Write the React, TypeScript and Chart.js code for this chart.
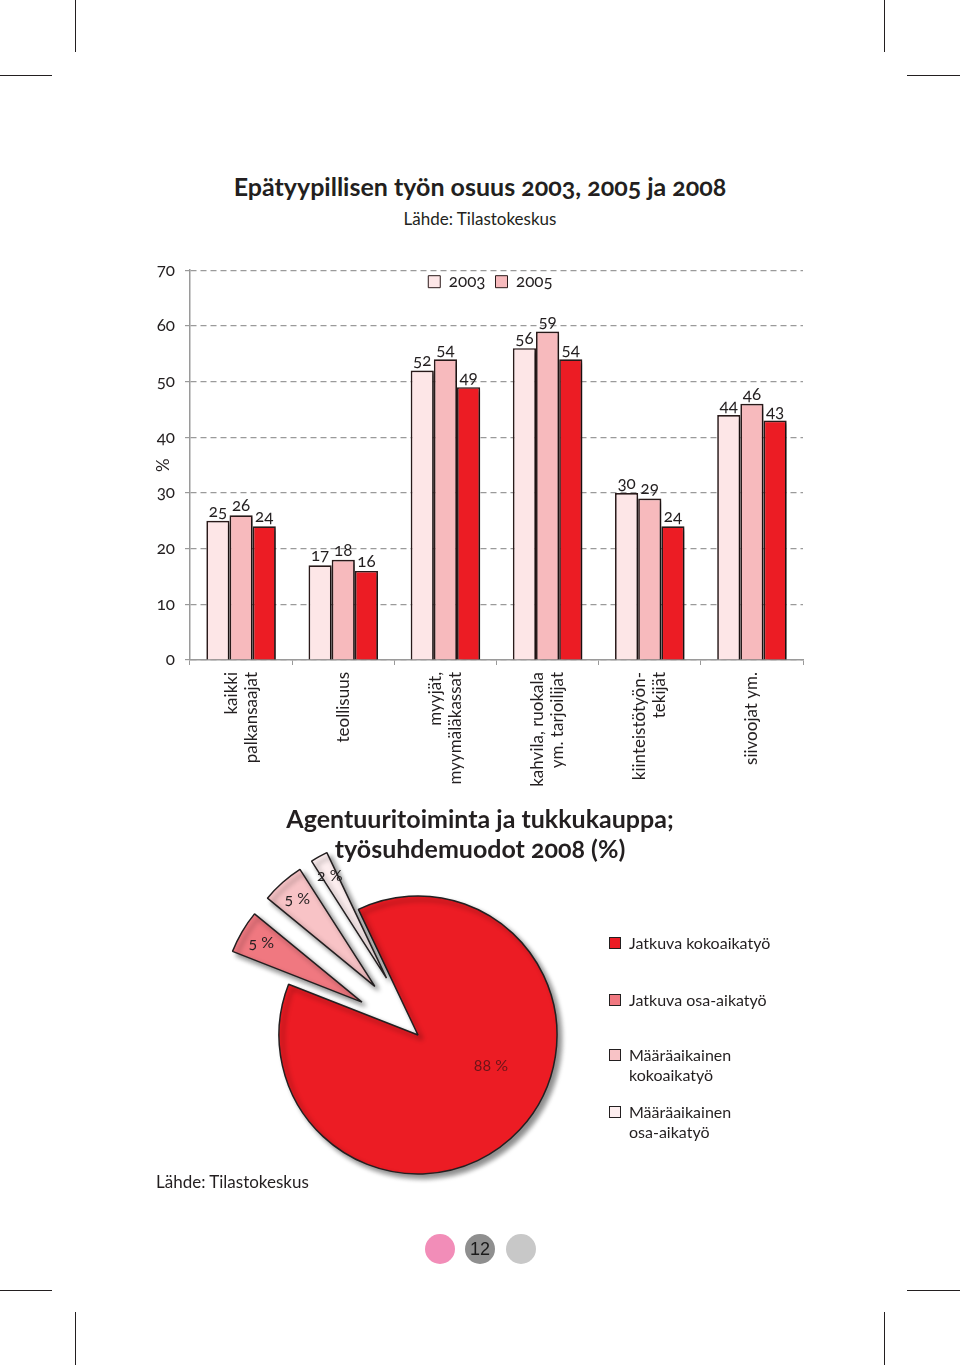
import React, { useEffect, useRef } from 'react';
import { Chart, registerables } from 'chart.js';

Chart.register(...registerables);

const FONT = 'Lato, "Open Sans", sans-serif';
const INK = '#231f20';

// ---------- Bar chart data ----------
const years = ['2003', '2005', '2008'];
const legendYears = ['2003', '2005'];
const categories = [
  ['kaikki', 'palkansaajat'],
  ['teollisuus'],
  ['myyjät,', 'myymäläkassat'],
  ['kahvila, ruokala', 'ym. tarjoilijat'],
  ['kiinteistötyön-', 'tekijät'],
  ['siivoojat ym.'],
];
const values2003 = [25, 17, 52, 56, 30, 44];
const values2005 = [26, 18, 54, 59, 29, 46];
const values2008 = [24, 16, 49, 54, 24, 43];
const yMin = 0;
const yMax = 70;
const yStep = 10;

// ---------- Pie chart data ----------
const pieCategories = [
  ['Jatkuva kokoaikatyö'],
  ['Jatkuva osa-aikatyö'],
  ['Määräaikainen', 'kokoaikatyö'],
  ['Määräaikainen', 'osa-aikatyö'],
];
const pieValues = [88, 5, 5, 2];

// ---------- styles ----------
const barColors = ['#fde6e7', '#f7babd', '#ec1c24'];
const pieColors = ['#ec1c24', '#f07880', '#f8c3c6', '#fdeeef'];
const pieExplode = [0, 65, 65, 65];

const barPlugin = {
  id: 'barDecor',
  afterInit(chart: any) {
    if (chart.legend) chart.legend.isHorizontal = () => true;
  },
  afterLayout(chart: any) {
    const lg = chart.legend;
    if (!lg) return;
    lg.left = chart.chartArea.left - 6;
    lg.right = chart.chartArea.right - 6;
    lg.top -= 7;
    lg.bottom -= 7;
  },
  beforeDatasetsDraw(chart: any) {
    const ctx = chart.ctx;
    ctx.save();
    ctx.shadowColor = 'rgba(0,0,0,0.45)';
    ctx.shadowBlur = 4;
    ctx.shadowOffsetX = 3;
    ctx.shadowOffsetY = 2;
  },
  afterDatasetsDraw(chart: any) {
    const ctx = chart.ctx;
    ctx.restore();
    ctx.save();
    ctx.font = `17px ${FONT}`;
    ctx.fillStyle = INK;
    ctx.textAlign = 'center';
    ctx.textBaseline = 'bottom';
    chart.data.datasets.forEach((ds: any, di: number) => {
      const meta = chart.getDatasetMeta(di);
      meta.data.forEach((bar: any, i: number) => {
        ctx.fillText(String(ds.data[i]), bar.x, bar.y - 1);
      });
    });
    const xs = chart.scales.x;
    const top = chart.chartArea.bottom + 12;
    ctx.textAlign = 'right';
    ctx.textBaseline = 'middle';
    categories.forEach((lines, i) => {
      const x = xs.getPixelForValue(i);
      ctx.save();
      ctx.translate(x, top);
      ctx.rotate(-Math.PI / 2);
      lines.forEach((ln, j) => {
        ctx.fillText(ln, 0, (j - (lines.length - 1) / 2) * 20);
      });
      ctx.restore();
    });
    ctx.restore();
  },
};

const piePlugin = {
  id: 'pieDecor',
  afterDatasetUpdate(chart: any, args: any) {
    const meta = args.meta;
    meta.data.forEach((arc: any, i: number) => {
      const d = pieExplode[i];
      if (!d) return;
      const mid = (arc.startAngle + arc.endAngle) / 2;
      arc.x += Math.cos(mid) * d;
      arc.y += Math.sin(mid) * d;
    });
  },
  beforeDatasetsDraw(chart: any) {
    const ctx = chart.ctx;
    ctx.save();
    ctx.shadowColor = 'rgba(0,0,0,0.45)';
    ctx.shadowBlur = 5;
    ctx.shadowOffsetX = 4;
    ctx.shadowOffsetY = 4;
  },
  afterDatasetsDraw(chart: any) {
    const ctx = chart.ctx;
    ctx.restore();
    ctx.save();
    ctx.font = `16px ${FONT}`;
    ctx.textAlign = 'center';
    ctx.textBaseline = 'middle';
    const meta = chart.getDatasetMeta(0);
    meta.data.forEach((arc: any, i: number) => {
      const big = arc.endAngle - arc.startAngle > Math.PI;
      const ang = (arc.startAngle + arc.endAngle) / 2 - (big ? 0.35 : 0);
      const r = arc.outerRadius * (big ? 0.57 : 0.84);
      ctx.fillStyle = big ? '#6e1418' : INK;
      ctx.fillText(`${pieValues[i]} %`, arc.x + Math.cos(ang) * r, arc.y + Math.sin(ang) * r);
    });
    ctx.restore();
  },
};

const abs = (s: any): any => ({ position: 'absolute', ...s });

export default function App() {
  const barRef = useRef<HTMLCanvasElement>(null);
  const pieRef = useRef<HTMLCanvasElement>(null);

  useEffect(() => {
    const bar = new Chart(barRef.current as HTMLCanvasElement, {
      type: 'bar',
      data: {
        labels: categories.map((c) => c.join(' ')),
        datasets: [values2003, values2005, values2008].map((vals, i) => ({
          label: years[i],
          data: vals,
          backgroundColor: barColors[i],
          borderColor: '#2b1b1b',
          borderWidth: 1.7,
          barPercentage: 1,
          categoryPercentage: 0.68,
        })),
      },
      options: {
        animation: false,
        responsive: false,
        layout: { padding: { left: 140, right: 157, top: 20, bottom: 10 } },
        plugins: {
          tooltip: { enabled: false },
          legend: {
            position: 'chartArea',
            align: 'center',
            labels: {
              filter: (item: any) => legendYears.includes(item.text),
              boxWidth: 12,
              boxHeight: 12,
              padding: 10,
              color: INK,
              font: { size: 17, family: FONT },
              generateLabels: (chart: any) =>
                (Chart.defaults.plugins.legend.labels as any)
                  .generateLabels(chart)
                  .map((l: any) => ({ ...l, lineWidth: 1 })),
            },
          },
        },
        scales: {
          x: {
            afterFit: (s: any) => {
              s.height = 140;
            },
            ticks: { display: false },
            grid: {
              display: true,
              drawOnChartArea: false,
              drawTicks: true,
              tickLength: 5,
              color: '#9a9a9a',
              offset: true,
            },
            border: { display: true, color: '#9a9a9a', width: 1.5 },
          },
          y: {
            min: yMin,
            max: yMax,
            afterFit: (s: any) => {
              s.width = 50;
            },
            ticks: {
              stepSize: yStep,
              color: INK,
              padding: 10,
              font: { size: 17, family: FONT },
            },
            title: {
              display: true,
              text: '%',
              color: INK,
              font: { size: 17, family: FONT },
              padding: { top: 13, bottom: 0 },
            },
            grid: { color: '#9a9a9a', lineWidth: 1.2, tickLength: 5 },
            border: { display: true, color: '#9a9a9a', width: 1.5, dash: [6, 4] },
          },
        },
      } as any,
      plugins: [barPlugin],
    });

    const pie = new Chart(pieRef.current as HTMLCanvasElement, {
      type: 'pie',
      data: {
        labels: pieCategories.map((c) => c.join(' ')),
        datasets: [
          {
            data: pieValues,
            backgroundColor: pieColors,
            borderColor: INK,
            borderWidth: 1.5,
          },
        ],
      },
      options: {
        animation: false,
        responsive: false,
        rotation: -25.4,
        radius: 139,
        layout: { padding: 0 },
        plugins: { legend: { display: false }, tooltip: { enabled: false } },
      } as any,
      plugins: [piePlugin],
    });

    return () => {
      bar.destroy();
      pie.destroy();
    };
  }, []);

  const line = (s: any) => <div style={abs({ background: INK, ...s })} />;

  return (
    <div
      style={abs({
        left: 0,
        top: 0,
        width: 960,
        height: 1365,
        background: '#fff',
        overflow: 'hidden',
        fontFamily: FONT,
        color: INK,
        fontVariantNumeric: 'oldstyle-nums',
      })}
    >
      {line({ left: 75, top: 0, width: 1, height: 52 })}
      {line({ left: 0, top: 75, width: 52, height: 1 })}
      {line({ left: 884, top: 0, width: 1, height: 52 })}
      {line({ left: 907, top: 75, width: 53, height: 1 })}
      {line({ left: 0, top: 1290, width: 52, height: 1 })}
      {line({ left: 907, top: 1290, width: 53, height: 1 })}
      {line({ left: 75, top: 1312, width: 1, height: 53 })}
      {line({ left: 884, top: 1312, width: 1, height: 53 })}

      <div style={abs({ left: 0, top: 171, width: 960, textAlign: 'center', fontSize: 25, lineHeight: '30px', fontWeight: 700 })}>
        Epätyypillisen työn osuus 2003, 2005 ja 2008
      </div>
      <div style={abs({ left: 0, top: 209, width: 960, textAlign: 'center', fontSize: 17, lineHeight: '20px' })}>
        Lähde: Tilastokeskus
      </div>

      <canvas ref={barRef} width={960} height={560} style={abs({ left: 0, top: 250 })} />

      <div style={abs({ left: 0, top: 803, width: 960, textAlign: 'center', fontSize: 25, lineHeight: '30px', fontWeight: 700 })}>
        Agentuuritoiminta ja tukkukauppa;
        <br />
        työsuhdemuodot 2008 (%)
      </div>

      <canvas ref={pieRef} width={500} height={400} style={abs({ left: 168, top: 835 })} />

      {pieCategories.map((lines, i) => {
        const tops = [933, 990, 1045, 1102];
        return (
          <div key={i} style={abs({ left: 609, top: tops[i], fontSize: 16, lineHeight: '20px' })}>
            <div
              style={abs({
                left: 0,
                top: 4,
                width: 10,
                height: 10,
                background: pieColors[i],
                border: `1px solid ${INK}`,
              })}
            />
            <div style={{ marginLeft: 20, whiteSpace: 'nowrap' }}>
              {lines.map((l, j) => (
                <div key={j}>{l}</div>
              ))}
            </div>
          </div>
        );
      })}

      <div style={abs({ left: 156, top: 1172, fontSize: 17, lineHeight: '20px' })}>Lähde: Tilastokeskus</div>

      <div style={abs({ left: 425, top: 1234, width: 30, height: 30, borderRadius: '50%', background: '#f28db8' })} />
      <div
        style={abs({
          left: 465,
          top: 1234,
          width: 30,
          height: 30,
          borderRadius: '50%',
          background: '#8f8f8f',
          fontFamily: 'Arial, "Liberation Sans", sans-serif',
          fontSize: 18,
          lineHeight: '30px',
          textAlign: 'center',
          color: '#1a1a1a',
          fontVariantNumeric: 'normal',
        })}
      >
        12
      </div>
      <div style={abs({ left: 506, top: 1234, width: 30, height: 30, borderRadius: '50%', background: '#c8c8c8' })} />
    </div>
  );
}
